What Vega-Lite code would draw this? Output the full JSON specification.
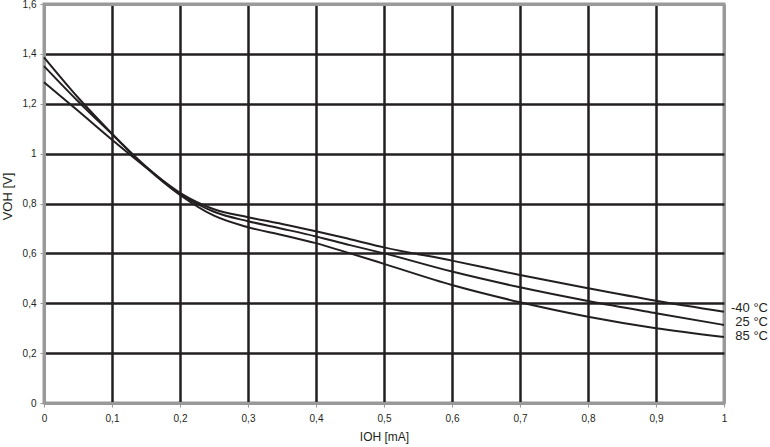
{
  "$schema": "https://vega.github.io/schema/vega-lite/v6.json",
  "width": 680,
  "height": 399,
  "autosize": {"type": "none"},
  "padding": {"left": 44, "top": 4, "right": 46, "bottom": 44},
  "background": "white",
  "config": {
    "font": "Liberation Sans",
    "locale": {"number": {"decimal": ",", "thousands": ".", "grouping": [3], "currency": ["", " €"]}},
    "view": {"stroke": "#999999", "strokeWidth": 3},
    "axis": {
      "labelFont": "Liberation Sans",
      "labelFontSize": 10,
      "labelColor": "#231f20",
      "titleFont": "Liberation Sans",
      "titleFontWeight": "normal",
      "titleColor": "#231f20",
      "domainColor": "#999999",
      "domainWidth": 3,
      "tickColor": "#999999",
      "tickSize": 4,
      "tickWidth": 1
    }
  },
  "datasets": {
    "curves": [
      {"t": "-40 °C", "x": 0, "y": 1.286},
      {"t": "-40 °C", "x": 0.05, "y": 1.172},
      {"t": "-40 °C", "x": 0.1, "y": 1.056},
      {"t": "-40 °C", "x": 0.15, "y": 0.945},
      {"t": "-40 °C", "x": 0.2, "y": 0.843},
      {"t": "-40 °C", "x": 0.25, "y": 0.777},
      {"t": "-40 °C", "x": 0.3, "y": 0.745},
      {"t": "-40 °C", "x": 0.35, "y": 0.718},
      {"t": "-40 °C", "x": 0.4, "y": 0.689},
      {"t": "-40 °C", "x": 0.45, "y": 0.657},
      {"t": "-40 °C", "x": 0.5, "y": 0.624},
      {"t": "-40 °C", "x": 0.6, "y": 0.571},
      {"t": "-40 °C", "x": 0.7, "y": 0.513},
      {"t": "-40 °C", "x": 0.8, "y": 0.46},
      {"t": "-40 °C", "x": 0.9, "y": 0.41},
      {"t": "-40 °C", "x": 1.0, "y": 0.366},
      {"t": "25 °C", "x": 0, "y": 1.351},
      {"t": "25 °C", "x": 0.05, "y": 1.21},
      {"t": "25 °C", "x": 0.1, "y": 1.078},
      {"t": "25 °C", "x": 0.15, "y": 0.948},
      {"t": "25 °C", "x": 0.2, "y": 0.838},
      {"t": "25 °C", "x": 0.25, "y": 0.767},
      {"t": "25 °C", "x": 0.3, "y": 0.729},
      {"t": "25 °C", "x": 0.35, "y": 0.699},
      {"t": "25 °C", "x": 0.4, "y": 0.668},
      {"t": "25 °C", "x": 0.45, "y": 0.633},
      {"t": "25 °C", "x": 0.5, "y": 0.6},
      {"t": "25 °C", "x": 0.6, "y": 0.527},
      {"t": "25 °C", "x": 0.7, "y": 0.464},
      {"t": "25 °C", "x": 0.8, "y": 0.409},
      {"t": "25 °C", "x": 0.9, "y": 0.36},
      {"t": "25 °C", "x": 1.0, "y": 0.313},
      {"t": "85 °C", "x": 0, "y": 1.386},
      {"t": "85 °C", "x": 0.05, "y": 1.225},
      {"t": "85 °C", "x": 0.1, "y": 1.08},
      {"t": "85 °C", "x": 0.15, "y": 0.945},
      {"t": "85 °C", "x": 0.2, "y": 0.834},
      {"t": "85 °C", "x": 0.25, "y": 0.751},
      {"t": "85 °C", "x": 0.3, "y": 0.705},
      {"t": "85 °C", "x": 0.35, "y": 0.674},
      {"t": "85 °C", "x": 0.4, "y": 0.641},
      {"t": "85 °C", "x": 0.45, "y": 0.6},
      {"t": "85 °C", "x": 0.5, "y": 0.558},
      {"t": "85 °C", "x": 0.6, "y": 0.473},
      {"t": "85 °C", "x": 0.7, "y": 0.404},
      {"t": "85 °C", "x": 0.8, "y": 0.346},
      {"t": "85 °C", "x": 0.9, "y": 0.3},
      {"t": "85 °C", "x": 1.0, "y": 0.265}
    ],
    "labels": [
      {"t": "-40 °C", "x": 1, "y": 0.381},
      {"t": "25 °C", "x": 1, "y": 0.325},
      {"t": "85 °C", "x": 1, "y": 0.27}
    ]
  },
  "layer": [
    {
      "data": {"name": "curves"},
      "mark": {"type": "line", "interpolate": "monotone", "color": "#231f20", "strokeWidth": 2},
      "encoding": {
        "x": {
          "field": "x", "type": "quantitative",
          "scale": {"domain": [0, 1], "nice": false, "zero": false},
          "axis": {
            "title": "IOH [mA]",
            "titleFontSize": 12,
            "titleY": 33,
            "titleBaseline": "middle",
            "values": [0, 0.1, 0.2, 0.3, 0.4, 0.5, 0.6, 0.7, 0.8, 0.9, 1],
            "format": ".1~f",
            "labelPadding": 6,
            "labelFlush": false,
            "grid": true,
            "gridColor": {"condition": {"test": "datum.value <= 0 || datum.value >= 1", "value": "#999999"}, "value": "#231f20"},
            "gridWidth": {"condition": {"test": "datum.value <= 0 || datum.value >= 1", "value": 3}, "value": 2.5}
          }
        },
        "y": {
          "field": "y", "type": "quantitative",
          "scale": {"domain": [0, 1.6], "nice": false, "zero": false},
          "axis": {
            "title": "VOH [V]",
            "titleFontSize": 13,
            "titleX": -36.5,
            "titleY": 192,
            "titleAngle": -90,
            "titleBaseline": "middle",
            "titleAnchor": "middle",
            "values": [0, 0.2, 0.4, 0.6, 0.8, 1, 1.2, 1.4, 1.6],
            "format": ".1~f",
            "labelPadding": 4,
            "labelFlush": false,
            "grid": true,
            "gridColor": {"condition": {"test": "datum.value <= 0 || datum.value >= 1.6", "value": "#999999"}, "value": "#231f20"},
            "gridWidth": {"condition": {"test": "datum.value <= 0 || datum.value >= 1.6", "value": 3}, "value": 2.5}
          }
        },
        "detail": {"field": "t"}
      }
    },
    {
      "data": {"name": "labels"},
      "mark": {"type": "text", "align": "right", "baseline": "middle", "dx": 44, "fontSize": 13, "color": "#231f20", "font": "Liberation Sans"},
      "encoding": {
        "x": {"field": "x", "type": "quantitative"},
        "y": {"field": "y", "type": "quantitative"},
        "text": {"field": "t"}
      }
    }
  ]
}
